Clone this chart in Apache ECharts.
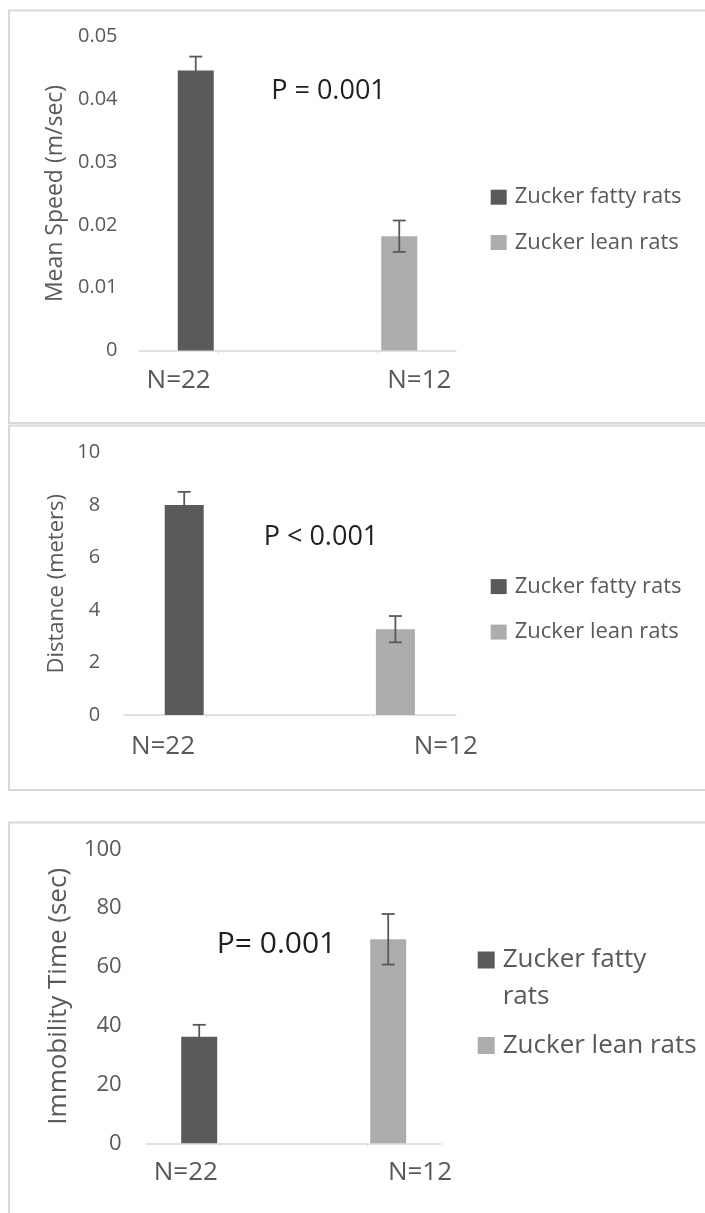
<!DOCTYPE html>
<html><head><meta charset="utf-8">
<script src="https://cdn.jsdelivr.net/npm/echarts@6/dist/echarts.min.js"></script>
<style>html,body{margin:0;padding:0;background:#fff}#c{width:705px;height:1213px}</style>
</head><body><div id="c"></div><script>
// ---- data ----
const categories = ['N=22', 'N=12'];
const groupNames = ['Zucker fatty rats', 'Zucker lean rats'];
const speedMeans = [0.0446, 0.0182];
const speedErrors = [0.0022, 0.0025];
const distanceMeans = [8.0, 3.27];
const distanceErrors = [0.5, 0.5];
const immobilityMeans = [36.2, 69.4];
const immobilityErrors = [4.1, 8.6];
const speedScale = [0, 0.05, 0.01];        // min, max, interval
const distanceScale = [0, 10, 2];
const immobilityScale = [0, 100, 20];
const axisTitles = ['Mean Speed (m/sec)', 'Distance (meters)', 'Immobility Time (sec)'];
const pValues = ['P = 0.001', 'P < 0.001', 'P= 0.001'];

// ---- style / layout ----
const FONT = "'Open Sans', 'Noto Sans', sans-serif";
const TEXT = '#595959';
const COLORS = ['#5a5a5a', '#adadad'];
const ERR = '#595959';
const BORDER = '#d9d9d9';

const panels = [
  { means: speedMeans, errs: speedErrors, scale: speedScale, title: axisTitles[0], p: pValues[0] },
  { means: distanceMeans, errs: distanceErrors, scale: distanceScale, title: axisTitles[1], p: pValues[1] },
  { means: immobilityMeans, errs: immobilityErrors, scale: immobilityScale, title: axisTitles[2], p: pValues[2] }
];
const layout = [
  { grid: {left: 139, top: 36.5, width: 317, height: 314}, barWidth: 36, gapPx: 9,
    tickFont: 20, tickMargin: 21.5, nameFont: 23, nameGap: 72,
    xFont: 26, xMargin: 17, xShift: [-39.6, 42.6], pPos: [328.5, 91.7], pSize: 27,
    border: [9, 10.5, 720, 412.5] },
  { grid: {left: 123.6, top: 452.5, width: 332.4, height: 262.5}, barWidth: 39, gapPx: 6,
    tickFont: 20, tickMargin: 23.5, nameFont: 22, nameGap: 55.5,
    xFont: 26, xMargin: 18.7, xShift: [-43.7, 72.9], pPos: [321, 537], pSize: 27,
    border: [9, 425.5, 720, 364.5] },
  { grid: {left: 146.7, top: 849.3, width: 294, height: 294}, barWidth: 36, gapPx: 6,
    tickFont: 22, tickMargin: 25, nameFont: 26, nameGap: 75,
    xFont: 26, xMargin: 16.7, xShift: [-34.4, 52.8], pPos: [276.5, 944], pSize: 30,
    border: [9, 822.5, 720, 420] }
];

const grids = [], xAxes = [], yAxes = [], series = [], graphics = [];

panels.forEach((pn, i) => {
  const L = layout[i];
  grids.push(Object.assign({containLabel: false}, L.grid));
  const rich = {};
  L.xShift.forEach((s, k) => {
    rich['c' + k] = {
      fontSize: L.xFont, fontFamily: FONT, color: TEXT, lineHeight: L.xFont,
      padding: s < 0 ? [0, -2 * s, 0, 0] : [0, 0, 0, 2 * s]
    };
  });
  xAxes.push({
    type: 'category', gridIndex: i, data: categories, boundaryGap: true,
    axisLine: {show: true, lineStyle: {color: BORDER, width: 1.5}},
    axisTick: {show: true, alignWithLabel: true, length: 3, lineStyle: {color: BORDER}},
    axisLabel: {interval: 0, margin: L.xMargin, formatter: (v, idx) => '{c' + idx + '|' + v + '}', rich: rich},
    splitLine: {show: false}
  });
  yAxes.push({
    type: 'value', gridIndex: i, min: pn.scale[0], max: pn.scale[1], interval: pn.scale[2],
    axisLine: {show: false}, axisTick: {show: false}, splitLine: {show: false},
    axisLabel: {fontSize: L.tickFont, fontFamily: FONT, color: TEXT, margin: L.tickMargin},
    name: pn.title, nameLocation: 'middle', nameRotate: 90, nameGap: L.nameGap,
    nameTextStyle: {fontSize: L.nameFont, fontFamily: FONT, color: TEXT, lineHeight: L.nameFont}
  });
  const gapPct = (L.gapPx / L.barWidth * 100) + '%';
  const off = (L.barWidth + L.gapPx) / 2;
  groupNames.forEach((nm, k) => {
    series.push({
      name: nm, type: 'bar', xAxisIndex: i, yAxisIndex: i,
      barWidth: L.barWidth, barGap: gapPct,
      itemStyle: {color: COLORS[k]},
      data: categories.map((c, j) => j === k ? pn.means[k] : '-')
    });
  });
  const offsets = [-off, off];
  series.push({
    type: 'custom', xAxisIndex: i, yAxisIndex: i, silent: true, z: 5,
    data: pn.means.map((m, j) => [j, m, pn.errs[j]]),
    renderItem: (params, api) => {
      const j = api.value(0), m = api.value(1), e = api.value(2);
      const hi = api.coord([j, m + e]);
      const lo = api.coord([j, m - e]);
      const x = hi[0] + offsets[j];
      const cw = 6.5;
      const st = {stroke: ERR, lineWidth: 1.8};
      return {type: 'group', children: [
        {type: 'line', shape: {x1: x, y1: hi[1], x2: x, y2: lo[1]}, style: st},
        {type: 'line', shape: {x1: x - cw, y1: hi[1], x2: x + cw, y2: hi[1]}, style: st},
        {type: 'line', shape: {x1: x - cw, y1: lo[1], x2: x + cw, y2: lo[1]}, style: st}
      ]};
    }
  });
  graphics.push({
    type: 'rect', shape: {x: L.border[0], y: L.border[1], width: L.border[2], height: L.border[3]},
    style: {fill: 'none', stroke: BORDER, lineWidth: 2}, silent: true, z: -10
  });
  graphics.push({
    type: 'text', x: L.pPos[0], y: L.pPos[1], silent: true,
    style: {text: pn.p, fontSize: L.pSize, fontFamily: FONT, fill: '#1f1f1f', align: 'center', verticalAlign: 'middle'}
  });
});

const legendText = (size, lh) => ({fontSize: size, fontFamily: FONT, color: TEXT, lineHeight: lh, padding: [0, 0, 0, 3]});
const legends = [
  {left: 490.7, top: 186.2, orient: 'vertical', padding: 0, itemWidth: 16, itemHeight: 15, itemGap: 23.3,
   icon: 'rect', data: groupNames, textStyle: legendText(22, 15)},
  {left: 490.7, top: 575.6, orient: 'vertical', padding: 0, itemWidth: 16, itemHeight: 15, itemGap: 23.5,
   icon: 'rect', data: groupNames, textStyle: legendText(22, 15)},
  {left: 477.7, top: 941.5, orient: 'vertical', padding: 0, itemWidth: 17, itemHeight: 54,
   icon: 'path://M0,0L17,0L17,17L0,17ZM0,54L0,54Z', data: [groupNames[0]],
   formatter: nm => nm.replace(/ (\S+)$/, '\n$1'), textStyle: legendText(26, 37)},
  {left: 477.7, top: 1032.5, orient: 'vertical', padding: 0, itemWidth: 17, itemHeight: 17,
   icon: 'rect', data: [groupNames[1]], textStyle: legendText(26, 17)}
];

const chart = echarts.init(document.getElementById('c'), null, {renderer: 'canvas'});
chart.setOption({
  backgroundColor: '#fff',
  animation: false,
  grid: grids, xAxis: xAxes, yAxis: yAxes, series: series,
  legend: legends, graphic: graphics
});
</script></body></html>
